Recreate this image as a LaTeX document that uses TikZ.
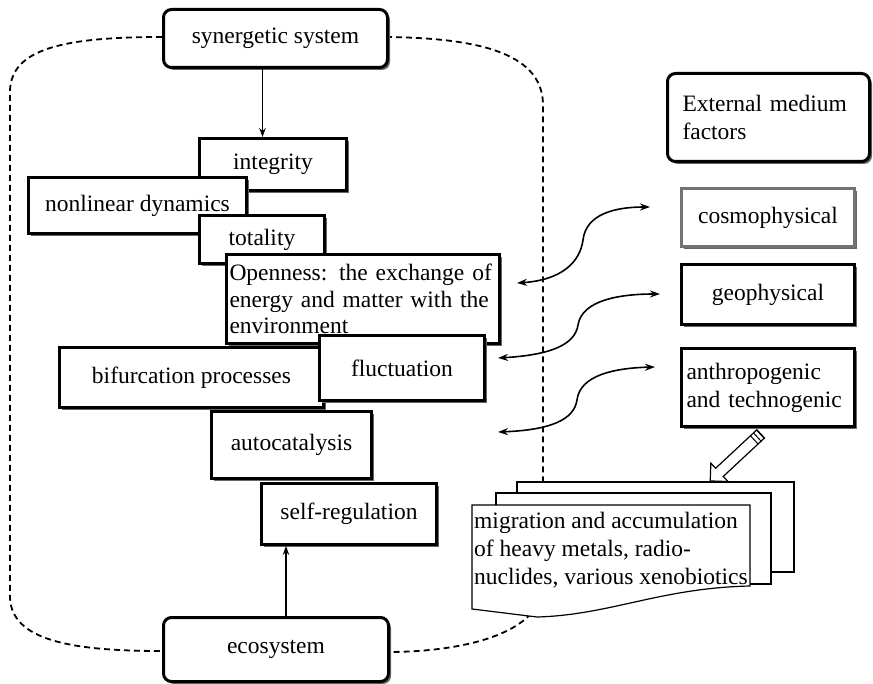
\documentclass[tikz,border=0pt]{standalone}
\usepackage{fontspec}
\setmainfont{Liberation Serif}
\usetikzlibrary{shadows,shapes.arrows,arrows.meta,calc}
\begin{document}
\begin{tikzpicture}[x=1pt,y=-1pt,
  font=\fontsize{23.5}{28}\selectfont,
  shd/.style={drop shadow={shadow xshift=2.5pt,shadow yshift=-2.5pt,fill=black!60,opacity=1}},
  box/.style={draw,line width=3pt,fill=white,shd,anchor=north west,inner sep=4pt},
  rbox/.style={box,rounded corners=8pt},
  arr/.style={-{Stealth[length=9pt,width=6.5pt]},line width=1.3pt},
  darr/.style={{Stealth[length=10pt,width=7pt]}-{Stealth[length=10pt,width=7pt]},line width=1.6pt},
  dash line/.style={line width=1.8pt,dash pattern=on 6pt off 4pt},
  doc/.style={draw,line width=1.2pt,fill=white}]
\useasboundingbox (0,0) rectangle (873,684);

% dashed outline of the synergetic system
\draw[dash line] (162,37) .. controls (60,37) and (12,50) .. (10,90)
  -- (10,598) .. controls (12,640) and (70,651) .. (162,651);
\draw[dash line] (386,37) .. controls (470,38) and (543,50) .. (543,105)
  -- (543,585) .. controls (541,635) and (460,652) .. (387,652);

% main column of properties
\node[rbox,minimum width=224pt,minimum height=58pt] (syn) at (162,8) {synergetic system};
\node[box,minimum width=147pt,minimum height=52pt] (integ) at (198,137) {integrity};
\node[box,minimum width=218pt,minimum height=56pt] (nonlin) at (27,176) {nonlinear dynamics};
\node[box,minimum width=125pt,minimum height=48pt] (total) at (198,214) {totality};
\node[box,minimum width=273pt,minimum height=89pt,text width=267pt,align=left,inner xsep=3pt,inner ysep=4pt,
  font=\fontsize{23.5}{26.5}\selectfont] (open) at (225,253)
  {Openness: the exchange of\\energy and matter with the\\environment};
\node[box,minimum width=264pt,minimum height=60pt] (bif) at (58,346) {bifurcation processes};
\node[box,minimum width=165pt,minimum height=65pt] (fluct) at (318,334) {fluctuation};
\node[box,minimum width=160pt,minimum height=67pt] (auto) at (210,410) {autocatalysis};
\node[box,minimum width=175pt,minimum height=61pt] (selfreg) at (260,482) {self-regulation};
\node[rbox,minimum width=225pt,minimum height=64pt] (eco) at (162,616) {ecosystem};

\draw[arr] ([xshift=-13pt]syn.south) -- ([xshift=-13pt]syn.south |- integ.north);
\draw[arr] ([xshift=10pt]eco.north) -- ([xshift=10pt]eco.north |- selfreg.south);

% external factors
\node[rbox,minimum width=202pt,minimum height=88pt,text width=172pt,align=left,inner xsep=15pt,inner ysep=8pt] (ext) at (666,72)
  {External medium\\factors};
\node[box,draw=black!55,minimum width=173pt,minimum height=58pt] (cosmo) at (680,187) {cosmophysical};
\node[box,minimum width=173pt,minimum height=60pt] (geo) at (680,263) {geophysical};
\node[box,minimum width=173pt,minimum height=78pt,text width=163pt,align=left,inner xsep=5pt,inner ysep=4pt] (anthro) at (680,347)
  {anthropogenic\\and technogenic};

% two-way exchange with the environment
\coordinate (a1l) at (517,283); \coordinate (a1r) at (650,207);
\coordinate (a2l) at (498,358); \coordinate (a2r) at (660,294);
\coordinate (a3l) at (498,432); \coordinate (a3r) at (655,367);
\draw[darr] (a1l) .. controls (562,280) and (580,262) .. (583,240)
  .. controls (586,214) and (615,207) .. (a1r);
\draw[darr] (a2l) .. controls (550,355) and (575,345) .. (578,325)
  .. controls (582,300) and (620,294) .. (a2r);
\draw[darr] (a3l) .. controls (550,430) and (574,420) .. (577,400)
  .. controls (580,375) and (615,368) .. (a3r);

% stack of documents
\draw[doc] (517,482) rectangle (794,572);
\draw[doc] (496,493) rectangle (771,584);
\draw[doc] (472,505) -- (472,609) -- (537,617)
  .. controls (610,615) and (660,588) .. (750,586) -- (750,505) -- cycle;
\node[anchor=north west,align=left,inner sep=0pt] (migr) at (474,512)
  {migration and accumulation\\of heavy metals, radio-\\nuclides, various xenobiotics};

% hollow arrow from the anthropogenic factors to the documents
\coordinate (hTail) at (763,432);
\coordinate (hHead) at (712,479);
\node[single arrow,draw,line width=1.2pt,fill=white,minimum height=69pt,
  single arrow head extend=7pt,single arrow head indent=0pt,inner sep=5pt,rotate=223] (harr)
  at ($(hTail)!0.5!(hHead)$) {};
\foreach \k in {0.05,0.11,0.17}
  \draw[line width=1pt] ($($(hTail)!\k!(hHead)$)!6pt!90:(hHead)$) -- ($($(hTail)!\k!(hHead)$)!6pt!-90:(hHead)$);
\end{tikzpicture}
\end{document}
